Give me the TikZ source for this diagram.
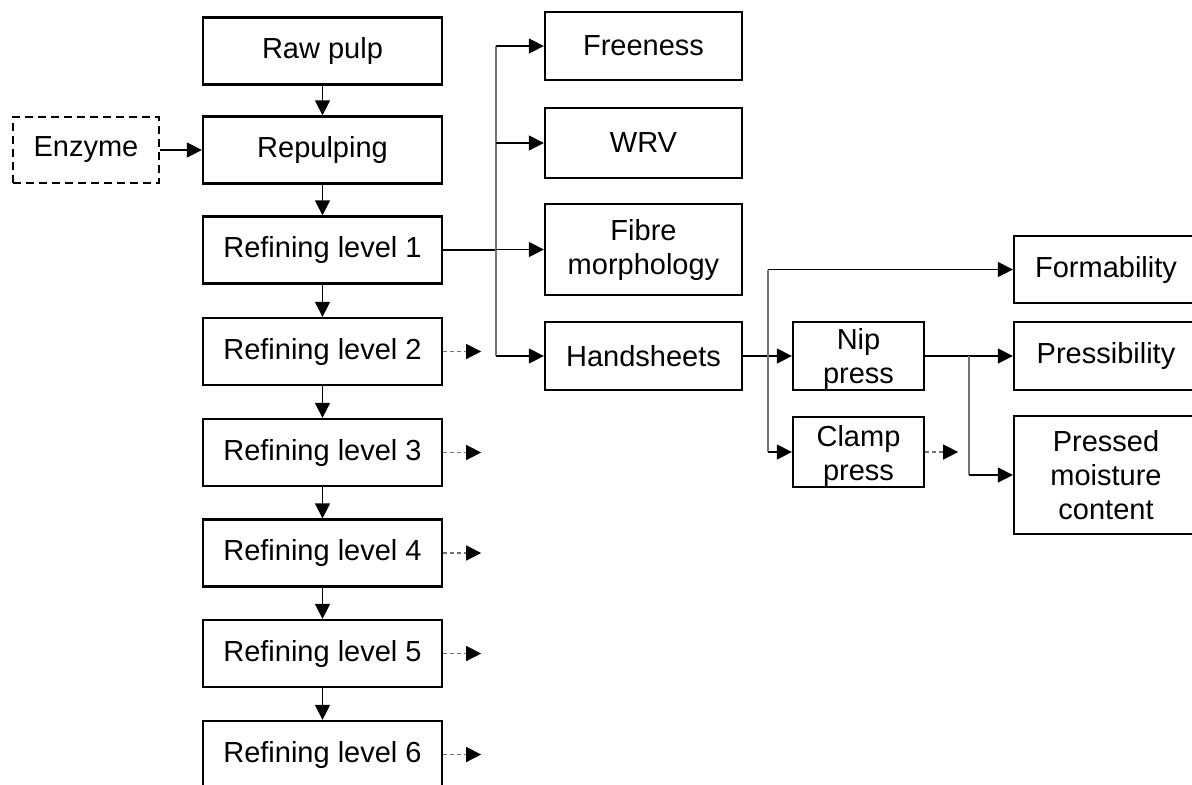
\documentclass[tikz,border=0pt]{standalone}
\usepackage{fontspec}
\setmainfont{Liberation Sans}
\usetikzlibrary{arrows.meta}
\begin{document}
\begin{tikzpicture}[x=0.5pt,y=-0.5pt,
 box/.style={draw, line width=1.15pt, inner sep=0pt, align=center, font=\fontsize{14.5}{17}\selectfont},
 mainbox/.style={box, minimum width=119.5pt, minimum height=33.5pt},
 rbox/.style={box, minimum width=98.5pt},
 conn/.style={line width=0.7pt, -{Triangle[length=7.5pt,width=7.5pt]}},
 trunk/.style={line width=0.7pt, black!55},
 plain/.style={line width=0.7pt},
 dasharr/.style={line width=0.7pt, black!55, dash pattern=on 2pt off 1.5pt, -{Triangle[length=7.5pt,width=7.5pt,color=black]}}
]
\useasboundingbox (0,0) rectangle (1192,784);

% main column
\node[mainbox] (raw) at (322.5,51) {Raw pulp};
\node[mainbox] (rep) at (322.5,150) {Repulping};
\node[mainbox] (r1) at (322.5,250) {Refining level 1};
\node[mainbox] (r2) at (322.5,351.5) {Refining level 2};
\node[mainbox] (r3) at (322.5,452.5) {Refining level 3};
\node[mainbox] (r4) at (322.5,553) {Refining level 4};
\node[mainbox] (r5) at (322.5,653.5) {Refining level 5};
\node[mainbox] (r6) at (322.5,754.5) {Refining level 6};
\node[box, dash pattern=on 4pt off 2.5pt, minimum width=73pt, minimum height=33pt] (enz) at (86,150) {Enzyme};

% right column
\node[rbox, minimum height=34pt] (free) at (643.5,46) {Freeness};
\node[rbox, minimum height=35pt] (wrv) at (643.5,143) {WRV};
\node[rbox, minimum height=45.5pt] (fib) at (643.5,249.5) {Fibre\\morphology};
\node[rbox, minimum height=34pt] (hand) at (643.5,356) {Handsheets};

% presses
\node[box, minimum width=65.5pt, minimum height=34pt] (nip) at (858.5,356) {\rule{0pt}{13.5pt}Nip\\press};
\node[box, minimum width=65.5pt, minimum height=35pt] (clamp) at (858.5,452) {\rule{0pt}{14.5pt}Clamp\\press};

% outcomes
\node[box, minimum width=92pt, minimum height=33.5pt] (form) at (1106,269.5) {Formability};
\node[box, minimum width=92pt, minimum height=34pt] (press) at (1106,356) {Pressibility};
\node[box, minimum width=92pt, minimum height=59pt] (pmc) at (1106,475) {Pressed\\moisture\\content};

% main flow
\draw[conn] (raw.south) -- (rep.north);
\draw[conn] (rep.south) -- (r1.north);
\draw[conn] (r1.south) -- (r2.north);
\draw[conn] (r2.south) -- (r3.north);
\draw[conn] (r3.south) -- (r4.north);
\draw[conn] (r4.south) -- (r5.north);
\draw[conn] (r5.south) -- (r6.north);
\draw[conn] (enz.east) -- (rep.west);

% branch from refining level 1
\coordinate (ja) at (496,250);
\draw[plain] (r1.east) -- (ja);
\draw[trunk] (free.west -| ja) -- (hand.west -| ja);
\draw[conn] (free.west -| ja) -- (free.west);
\draw[conn] (wrv.west -| ja) -- (wrv.west);
\draw[conn] (fib.west -| ja) -- (fib.west);
\draw[conn] (hand.west -| ja) -- (hand.west);

% branch from handsheets
\coordinate (jb) at (768,356);
\draw[conn] (hand.east) -- (nip.west);
\draw[trunk] (form.west -| jb) -- (clamp.west -| jb);
\draw[conn] (form.west -| jb) -- (form.west);
\draw[conn] (clamp.west -| jb) -- (clamp.west);

% branch from nip press
\coordinate (jc) at (969,356);
\draw[conn] (nip.east) -- (press.west);
\draw[trunk] (press.west -| jc) -- (pmc.west -| jc);
\draw[conn] (pmc.west -| jc) -- (pmc.west);

% dashed continuations
\foreach \n in {r2,r3,r4,r5,r6} \draw[dasharr] (\n.east) -- ++(38,0);
\draw[dasharr] (clamp.east) -- ++(33,0);
\end{tikzpicture}
\end{document}
